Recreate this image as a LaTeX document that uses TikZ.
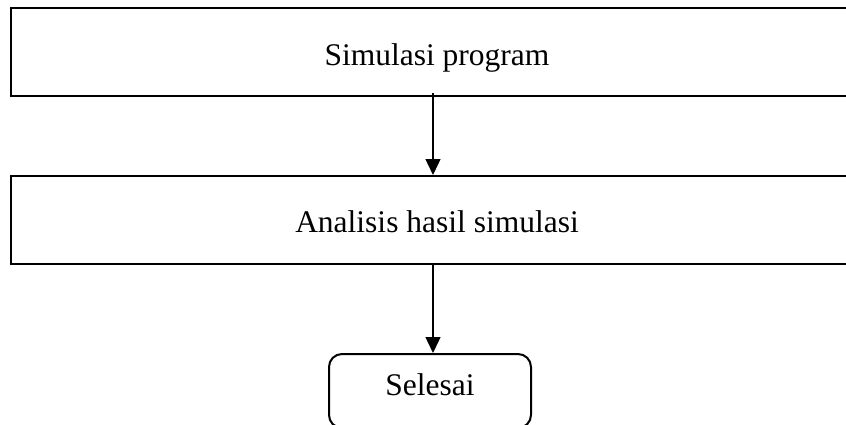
\documentclass[tikz,border=0pt]{standalone}
\usepackage{fontspec}
\setmainfont{Liberation Serif}
\usetikzlibrary{positioning,arrows.meta}

\begin{document}
\begin{tikzpicture}[x=0.5pt,y=-0.5pt,
                    every node/.style={font=\fontsize{15.75}{18}\selectfont,align=center,anchor=base},
                    box/.style={draw,line width=1pt,inner sep=0pt},
                    endbox/.style={box,rounded corners=6.5pt},
                    arr/.style={-{Triangle[length=8pt,width=7.5pt]},line width=0.7pt}]
  \useasboundingbox (0,0) rectangle (846,424);
  \node[box,minimum width=426pt,text height=28.5pt,text depth=15.5pt] (sim) at (437,65) {Simulasi program};
  \node[box,minimum width=426pt,text height=28pt,text depth=16pt] (ana) at (437,232) {Analisis hasil simulasi};
  \node[endbox,minimum width=101pt,text height=20.5pt,text depth=16.5pt] (sel) at (430,395) {Selesai};
  \draw[arr] ([xshift=-2pt,yshift=2pt]sim.south) -- ([xshift=-2pt]ana.north);
  \draw[arr] ([xshift=-2pt]ana.south) -- ([xshift=1.5pt]sel.north);
\end{tikzpicture}
\end{document}
